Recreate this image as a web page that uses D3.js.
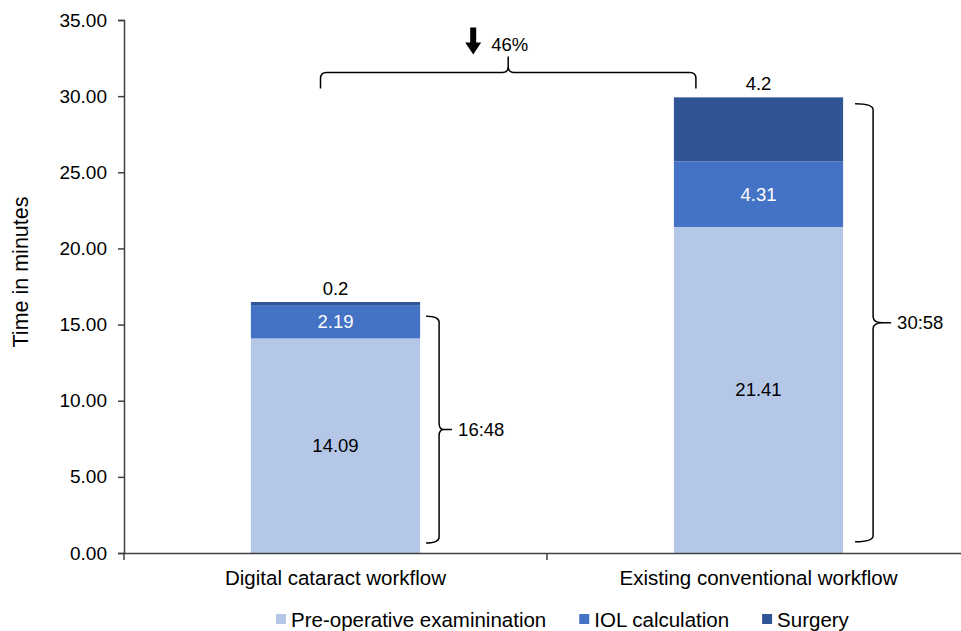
<!DOCTYPE html>
<html>
<head>
<meta charset="utf-8">
<script src="https://cdn.jsdelivr.net/npm/d3@7"></script>
<style>
  body { margin: 0; background: #fff; }
  text { font-family: "Liberation Sans", Arial, sans-serif; fill: #000; }
</style>
</head>
<body>
<div id="chart"></div>
<script>
// categories and stacked series (minutes)
let categories = ["Digital cataract workflow", "Existing conventional workflow"];
let seriesNames = ["Pre-operative examinination", "IOL calculation", "Surgery"];
let preOp = [14.09, 21.41];
let iolCalc = [2.19, 4.31];
let surgery = [0.2, 4.2];
let totalLabels = ["16:48", "30:58"];
let yTicks = [0, 5, 10, 15, 20, 25, 30, 35];
let reduction = "46%";

let colors = ["#b4c7e7", "#4472c4", "#2f5597"];
let labelColors = ["#000", "#fff", "#000"];

let width = 961, height = 631;

let svg = d3.select("#chart").append("svg")
  .attr("width", width)
  .attr("height", height);

let x = d3.scaleBand().domain(categories).range([124, 970]).padding(0);
let y = d3.scaleLinear().domain([0, 35]).range([553, 20]);
let barW = x.bandwidth() * 0.4;
let barX = c => x(c) + (x.bandwidth() - barW) / 2;

// table for the stack
let table = categories.map((c, i) => ({
  cat: c,
  "Pre-operative examinination": preOp[i],
  "IOL calculation": iolCalc[i],
  "Surgery": surgery[i]
}));
let stacked = d3.stack().keys(seriesNames)(table);

// bars
let layers = svg.selectAll("g.layer")
  .data(stacked)
  .enter()
  .append("g")
  .attr("class", "layer")
  .attr("fill", (d, i) => colors[i]);

layers.selectAll("rect")
  .data(d => d)
  .enter()
  .append("rect")
  .attr("x", d => barX(d.data.cat))
  .attr("width", barW)
  .attr("y", d => y(d[1]))
  .attr("height", d => y(d[0]) - y(d[1]));

// value labels: first two series centred, surgery above the bar
stacked.forEach((layer, li) => {
  svg.selectAll(null)
    .data(layer)
    .enter()
    .append("text")
    .attr("x", d => barX(d.data.cat) + barW / 2)
    .attr("y", d => li < 2 ? (y(d[0]) + y(d[1])) / 2 : y(d[1]) - 14)
    .attr("text-anchor", "middle")
    .attr("dominant-baseline", "central")
    .style("font-size", "18.5px")
    .style("fill", labelColors[li])
    .text(d => d.data[layer.key]);
});

// axes
let yAxis = svg.append("g")
  .attr("transform", "translate(124,0)")
  .call(d3.axisLeft(y).tickValues(yTicks).tickFormat(d3.format(".2f")).tickSize(6).tickPadding(11));
let xAxis = svg.append("g")
  .attr("transform", "translate(0,553)")
  .call(d3.axisBottom(x).tickSize(0).tickPadding(17));

[yAxis, xAxis].forEach(a => {
  a.select(".domain").attr("stroke", "#404040").attr("stroke-width", 1.5);
  a.selectAll("line").attr("stroke", "#404040").attr("stroke-width", 1.5);
  a.selectAll("text").style("font-size", "19px").attr("fill", "#000")
    .style("font-family", "'Liberation Sans', Arial, sans-serif");
});
xAxis.selectAll("text").style("font-size", "20.5px");

// tick marks at band boundaries on the x axis
svg.selectAll("line.xb")
  .data(categories)
  .enter()
  .append("line")
  .attr("x1", d => x(d))
  .attr("x2", d => x(d))
  .attr("y1", 553)
  .attr("y2", 560)
  .attr("stroke", "#404040")
  .attr("stroke-width", 1.5);

// y axis title
svg.append("text")
  .attr("transform", "translate(21,272) rotate(-90)")
  .attr("text-anchor", "middle")
  .attr("dominant-baseline", "central")
  .style("font-size", "21.5px")
  .text("Time in minutes");

// vertical brace: opening left, tip right
function vBrace(x0, x1, xt, y0, y1) {
  let ym = (y0 + y1) / 2, r = 6;
  return `M${x0},${y0} Q${x1},${y0} ${x1},${y0 + r} L${x1},${ym - r} Q${x1},${ym} ${xt - 8},${ym} L${xt},${ym}` +
    ` M${xt - 8},${ym} Q${x1},${ym} ${x1},${ym + r} L${x1},${y1 - r} Q${x1},${y1} ${x0},${y1}`;
}

// brace annotations (value ranges, offsets from bar edge)
let braceLow = [0.66, 0.74];
let braceHigh = [15.55, 29.5];
let braceOff = [[6, 19, 32], [12, 30, 48]];

categories.forEach((c, i) => {
  let right = barX(c) + barW;
  let o = braceOff[i];
  svg.append("path")
    .attr("d", vBrace(right + o[0], right + o[1], right + o[2], y(braceHigh[i]), y(braceLow[i])))
    .attr("fill", "none")
    .attr("stroke", "#000")
    .attr("stroke-width", 1.5);
  svg.append("text")
    .attr("x", right + o[2] + 6)
    .attr("y", (y(braceHigh[i]) + y(braceLow[i])) / 2)
    .attr("dominant-baseline", "central")
    .style("font-size", "18.5px")
    .text(totalLabels[i]);
});

// horizontal brace across the two bars
let hx0 = barX(categories[0]) + barW / 2 - 15;
let hx1 = barX(categories[1]) + 22;
let hEnd = y(30.5), hLine = hEnd - 16, hTip = hEnd - 32;
let hm = (hx0 + hx1) / 2, r = 6;
svg.append("path")
  .attr("d", `M${hx0},${hEnd} L${hx0},${hLine + r} Q${hx0},${hLine} ${hx0 + r},${hLine} L${hm - r},${hLine} Q${hm},${hLine} ${hm},${hLine - r} L${hm},${hTip}` +
    ` M${hm},${hLine - r} Q${hm},${hLine} ${hm + r},${hLine} L${hx1 - r},${hLine} Q${hx1},${hLine} ${hx1},${hLine + r} L${hx1},${hEnd}`)
  .attr("fill", "none")
  .attr("stroke", "#000")
  .attr("stroke-width", 1.5);

// down arrow and reduction label
let ax = hm - 35, aTop = y(30.5) - 61;
svg.append("path")
  .attr("d", `M${ax - 3},${aTop} L${ax + 3},${aTop} L${ax + 3},${aTop + 15} L${ax + 8},${aTop + 15} L${ax},${aTop + 27} L${ax - 8},${aTop + 15} L${ax - 3},${aTop + 15} Z`)
  .attr("fill", "#000");
svg.append("text")
  .attr("x", hm - 17)
  .attr("y", aTop + 17)
  .attr("dominant-baseline", "central")
  .style("font-size", "18.5px")
  .text(reduction);

// legend
let legend = svg.append("g").attr("transform", "translate(276,619)");
let lx = 0;
seriesNames.forEach((name, i) => {
  let g = legend.append("g").attr("transform", `translate(${lx},0)`);
  g.append("rect")
    .attr("x", 0).attr("y", -5)
    .attr("width", 10).attr("height", 10)
    .attr("fill", colors[i]);
  let t = g.append("text")
    .attr("x", 15)
    .attr("y", 0)
    .attr("dominant-baseline", "central")
    .style("font-size", "20.5px")
    .text(name);
  lx += 15 + t.node().getComputedTextLength() + 33;
});
</script>
</body>
</html>
